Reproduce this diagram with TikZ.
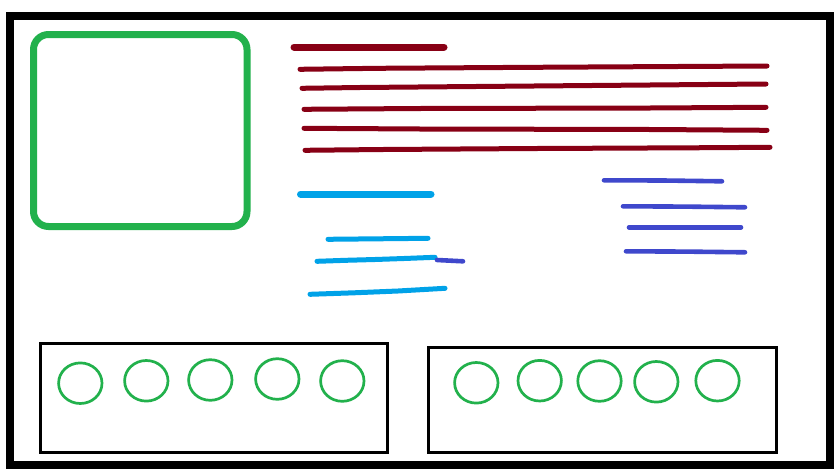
\documentclass[tikz,border=0pt]{standalone}
\definecolor{maroon}{HTML}{880015}
\definecolor{pgreen}{HTML}{22B14C}
\definecolor{pcyan}{HTML}{00A2E8}
\definecolor{pindigo}{HTML}{3F48CC}
\begin{document}
\begin{tikzpicture}[x=1pt,y=-1pt,
  frame/.style={draw=black,line width=8pt},
  imgbox/.style={draw=pgreen,line width=7pt,rounded corners=15pt},
  heading/.style={line width=7pt,line cap=round},
  textline/.style={line width=5pt,line cap=round},
  sideline/.style={draw=pindigo,line width=4.6pt,line cap=round},
  panel/.style={draw=black,line width=3pt},
  dot/.style={draw=pgreen,line width=2.7pt,x radius=21.7pt,y radius=20.3pt}]
\useasboundingbox (0,0) rectangle (840,471);
\fill[white] (0,0) rectangle (840,471);
% outer frame
\draw[frame] (10,16) rectangle (830,465);
% image placeholder
\draw[imgbox] (33.5,34.5) rectangle (247,226.5);
% maroon heading and lines
\draw[heading,maroon] (294,47) -- (444,47);
\draw[textline,maroon] (300,69.3) -- (378,68.3) -- (534,67.3) -- (678,66.5) -- (767,66);
\draw[textline,maroon] (302,88.3) -- (360,87.5) -- (476,86.5) -- (592,85.5) -- (708,84.5) -- (766,84);
\draw[textline,maroon] (304,109.3) -- (420,108.5) -- (650,108) -- (766,107.3);
\draw[textline,maroon] (304,128.3) -- (420,129) -- (650,129.5) -- (767,130.3);
\draw[textline,maroon] (305,150.3) -- (383,149.5) -- (537,148.5) -- (691,147.8) -- (770,147.3);
% cyan heading and lines
\draw[heading,pcyan] (300.5,194) -- (431,194);
\draw[textline,pcyan] (328,239.3) -- (378,238.8) -- (428,238.3);
\draw[textline,pcyan] (317,261.3) -- (346,260.3) -- (375,259.5) -- (404,258.5) -- (435,257.3);
\draw[sideline] (437,260) -- (463,261.3);
\draw[textline,pcyan] (310,294.3) -- (354,292.8) -- (398,291) -- (445,288.3);
% indigo side lines
\draw[sideline] (604,180.3) -- (663,180.5) -- (722,181.3);
\draw[sideline] (623,206.3) -- (684,206.6) -- (745,207.3);
\draw[sideline] (629,227.3) -- (741,227.3);
\draw[sideline] (626,251.3) -- (686,251.6) -- (745,252.3);
% bottom panels
\draw[panel] (40.8,343.8) rectangle (387.2,452.8);
\draw[panel] (428.8,347.2) rectangle (776.2,452.5);
% circles left panel
\draw[dot] (80.3,383.2) ellipse [];
\draw[dot] (146.3,380.8) ellipse [];
\draw[dot] (210.3,380) ellipse [];
\draw[dot] (277.3,379) ellipse [];
\draw[dot] (342.3,381) ellipse [];
% circles right panel
\draw[dot] (476.3,382.8) ellipse [];
\draw[dot] (539.7,380.7) ellipse [];
\draw[dot] (599.5,381) ellipse [];
\draw[dot] (656.3,381.8) ellipse [];
\draw[dot] (717.5,380.7) ellipse [];
\end{tikzpicture}
\end{document}
